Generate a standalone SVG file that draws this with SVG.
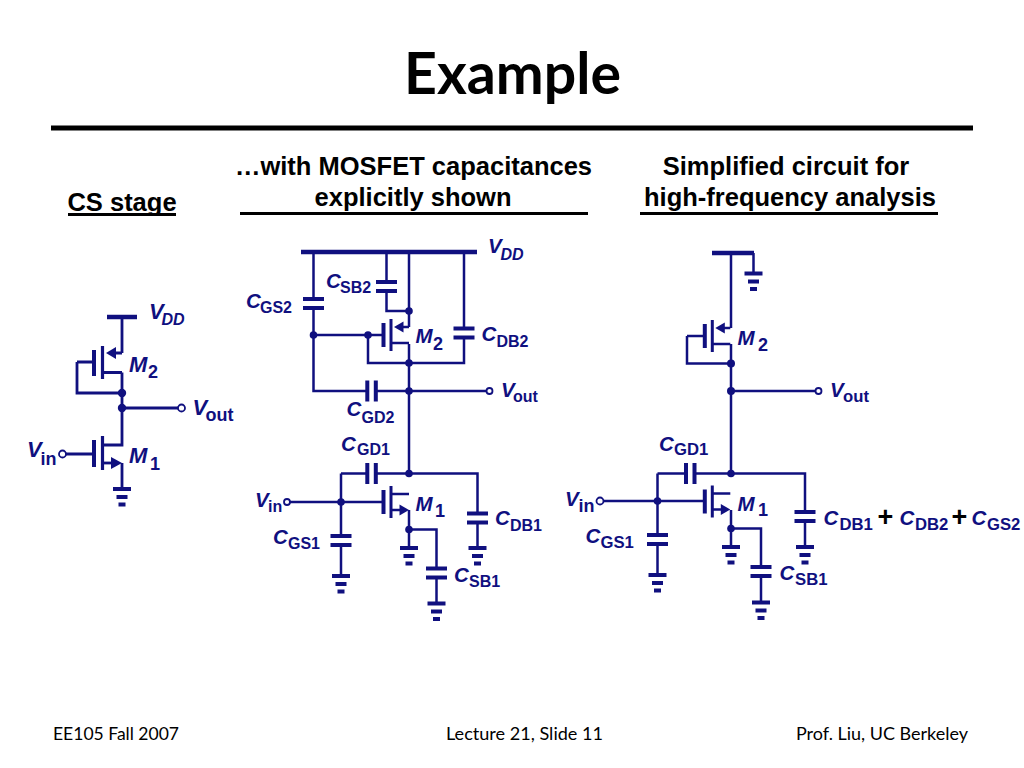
<svg xmlns="http://www.w3.org/2000/svg" width="1024" height="768" viewBox="0 0 1024 768">
<style>
.w{fill:none;stroke:#10107f;stroke-width:2.500;stroke-linejoin:miter}
.p{fill:none;stroke:#10107f;stroke-width:4}
.f{fill:#10107f;stroke:none}
.o{fill:#fff;stroke:#10107f;stroke-width:1.800}
.l{font-family:"Liberation Sans",Arial,sans-serif;font-weight:bold;fill:#10107f}
.b{font-size:20.500px;font-style:italic}
.bl{font-size:22px;font-style:italic}
.s{font-size:16px;font-style:normal}
.r{font-size:16.700px;font-style:normal}
.t{font-size:18px;font-style:normal}
.si{font-size:16px;font-style:italic}
.h{font-family:"Liberation Sans",Arial,sans-serif;font-weight:bold;font-size:25.500px;fill:#000}
.ft{font-family:Lato,"Open Sans",sans-serif;font-size:17.800px;fill:#000}
.k{stroke:#000;stroke-width:3;fill:none}
</style>
<defs>
<g id="gnd"><path class="p" d="M-9 0H9M-5.500 8H5.500M-3.500 15.500H3.500"/></g>
<g id="capH"><path class="p" d="M-10.500 0H10.500M-10.500 9H10.500"/></g>
<g id="capV"><path class="p" d="M0 -10.500V10.500M8.500 -10.500V10.500"/></g>
<g id="nmos"><path class="p" d="M-7.500 -12V12"/><path class="p" d="M0 -16V16" style="stroke-width:3"/><path class="w" d="M0 -8H18M0 8H10"/><polygon class="f" points="18,8 8.500,2.500 8.500,13.500"/></g>
<g id="pmos"><path class="p" d="M-7.500 -12V12"/><path class="p" d="M0 -16V16" style="stroke-width:3"/><path class="w" d="M10 -8H18M0 8H18"/><polygon class="f" points="3,-8 12.500,-13.500 12.500,-2.500"/></g>
</defs>
<rect width="1024" height="768" fill="#fff"/>

<g id="header">
<text x="512.500" y="94" text-anchor="middle" font-family="Lato,'Open Sans',sans-serif" font-weight="bold" font-size="57" fill="#000" textLength="217" lengthAdjust="spacingAndGlyphs">Example</text>
<rect x="51" y="125.500" width="922" height="5" fill="#000"/>
<text class="h" x="122" y="211" text-anchor="middle">CS stage</text>
<path class="k" d="M68 214.500H176"/>
<text class="h" x="413.500" y="175" text-anchor="middle">…with MOSFET capacitances</text>
<text class="h" x="413" y="206" text-anchor="middle">explicitly shown</text>
<path class="k" d="M240 213.500H588"/>
<text class="h" x="786" y="175" text-anchor="middle">Simplified circuit for</text>
<text class="h" x="790" y="206" text-anchor="middle">high-frequency analysis</text>
<path class="k" d="M640 213.500H938"/>
</g>

<g id="connectors">
<path class="w" d="M122 317V353M122 372.500V445H103M122 408H178M122 463V489M77 362H94M77 362V393H122M66 454H94" style="stroke-width:2.800"/>
<path class="p" d="M107 317H137" style="stroke-width:4.500"/>
<path class="w" d="M313.500 252V299M313.500 308V391H367M376 391H486M409 252V327M409 344V473.500M386.500 252V282M386.500 291V311H409M464 252V328M464 337V363H368V335M313.500 335H383M409 473.500H477.500V513.500M477.500 522.500V548M341 473.500H367M376 473.500H409M341 473.500V536M341 545V576M290 502H383M409 510V548M409 529.500H436.500V568.500M436.500 577.500V603.500"/>
<path class="p" d="M301 252H477" style="stroke-width:4.500"/>
<path class="w" d="M731 253V328M731 344V473.500M687 336H704M687 336V363.500H731M753.500 253V273.500M731 391H815M657.500 473.500H686M695 473.500H805V512M805 521V547M657.500 473.500V535M657.500 544V575M604 501H705M731 510V547M731 528.500H761V567M761 575.500V602.500"/>
<path class="p" d="M712 253H754" style="stroke-width:4.500"/>
</g>

<g id="left-circuit">
<g id="left-m2"><path class="p" d="M94 350V376"/><path class="p" d="M102.500 346V379" style="stroke-width:3.200"/><path class="w" d="M114 353H122M103 372.500H122" style="stroke-width:2.800"/><polygon class="f" points="106,353 116,347 116,359"/></g>
<g id="left-m1"><path class="p" d="M94 440V467"/><path class="p" d="M102.500 436V470" style="stroke-width:3.200"/><path class="w" d="M103 463H112" style="stroke-width:2.800"/><polygon class="f" points="122,463 111,457 111,469"/></g>
<use href="#gnd" x="122" y="489"/>
<circle class="f" cx="122" cy="393" r="4.200"/><circle class="f" cx="122" cy="408" r="4.200"/>
<circle class="o" cx="181.500" cy="408" r="3.500"/><circle class="o" cx="62.500" cy="454" r="3.500"/>
<text class="l bl" x="149" y="319">V<tspan class="si" x="161.500" y="325">DD</tspan></text>
<text class="l bl" x="129" y="372">M<tspan class="t" x="148" y="378">2</tspan></text>
<text class="l bl" x="192.500" y="415">V<tspan class="t" x="205.500" y="421">out</tspan></text>
<text class="l bl" x="27" y="457">V<tspan class="t" x="40.500" y="465">in</tspan></text>
<text class="l bl" x="129" y="463">M<tspan class="t" x="150" y="470">1</tspan></text>
</g>

<g id="middle-circuit">
<use href="#pmos" x="391" y="335"/>
<use href="#nmos" x="391" y="502"/>
<use href="#capH" x="313.500" y="299"/><use href="#capH" x="386.500" y="282"/><use href="#capH" x="464" y="328.500"/>
<use href="#capV" x="367.300" y="391"/><use href="#capV" x="367.300" y="473.500"/>
<use href="#capH" x="477.500" y="513.500"/><use href="#capH" x="341" y="536"/><use href="#capH" x="436.500" y="568.500"/>
<use href="#gnd" x="477.500" y="548"/><use href="#gnd" x="341" y="576"/><use href="#gnd" x="409" y="548"/><use href="#gnd" x="436.500" y="603.500"/>
<circle class="f" cx="313.500" cy="335" r="3.800"/><circle class="f" cx="368" cy="335" r="3.800"/><circle class="f" cx="409" cy="311" r="3.800"/><circle class="f" cx="409" cy="363" r="3.800"/><circle class="f" cx="409" cy="391" r="3.800"/><circle class="f" cx="409" cy="473.500" r="3.800"/><circle class="f" cx="341" cy="502" r="3.800"/><circle class="f" cx="409" cy="529.500" r="3.800"/>
<circle class="o" cx="489.500" cy="391" r="3"/><circle class="o" cx="287" cy="502" r="3"/>
<text class="l b" x="488" y="253">V<tspan class="si" x="500.500" y="260">DD</tspan></text>
<text class="l b" x="326" y="288">C<tspan class="s" x="340" y="293">SB2</tspan></text>
<text class="l b" x="246" y="308">C<tspan class="s" x="260" y="313">GS2</tspan></text>
<text class="l b" x="415.500" y="343">M<tspan class="t" x="433" y="350">2</tspan></text>
<text class="l b" x="481.500" y="341">C<tspan class="s" x="496.500" y="347">DB2</tspan></text>
<text class="l b" x="501" y="397">V<tspan class="s" x="513" y="402">out</tspan></text>
<text class="l b" x="346.500" y="416">C<tspan class="s" x="361.500" y="423">GD2</tspan></text>
<text class="l b" x="341" y="451">C<tspan class="s" x="357" y="455">GD1</tspan></text>
<text class="l b" x="255" y="507">V<tspan class="s" x="268" y="512">in</tspan></text>
<text class="l b" x="415.500" y="511">M<tspan class="t" x="435" y="517">1</tspan></text>
<text class="l b" x="273" y="544">C<tspan class="s" x="288" y="549">GS1</tspan></text>
<text class="l b" x="495" y="525">C<tspan class="s" x="510" y="531">DB1</tspan></text>
<text class="l b" x="454" y="582">C<tspan class="s" x="469" y="587">SB1</tspan></text>
</g>

<g id="right-circuit">
<use href="#pmos" x="712.300" y="336"/>
<use href="#nmos" x="712.300" y="501.500"/>
<use href="#gnd" x="753.500" y="273.500"/>
<use href="#capV" x="686" y="473.500"/>
<use href="#capH" x="657.500" y="535"/><use href="#capH" x="761" y="567"/><use href="#capH" x="805" y="512"/>
<use href="#gnd" x="657.500" y="575"/><use href="#gnd" x="731" y="547"/><use href="#gnd" x="761" y="602.500"/><use href="#gnd" x="805" y="547"/>
<circle class="f" cx="731" cy="363.500" r="4"/><circle class="f" cx="731" cy="391" r="4"/><circle class="f" cx="731" cy="473.500" r="3.800"/><circle class="f" cx="657.500" cy="501" r="3.800"/><circle class="f" cx="731" cy="528.500" r="3.800"/>
<circle class="o" cx="818.500" cy="391" r="3"/><circle class="o" cx="600" cy="501" r="3.500"/>
<text class="l b" x="737.500" y="345">M<tspan class="t" x="758" y="351">2</tspan></text>
<text class="l b" x="830" y="397">V<tspan class="r" x="843" y="402">out</tspan></text>
<text class="l b" x="659" y="451">C<tspan class="r" x="674" y="455">GD1</tspan></text>
<text class="l b" x="565" y="506">V<tspan class="t" x="578.500" y="512">in</tspan></text>
<text class="l b" x="737.500" y="511">M<tspan class="t" x="758" y="516">1</tspan></text>
<text class="l b" x="585.500" y="543">C<tspan class="r" x="600.500" y="548">GS1</tspan></text>
<text class="l b" x="823.500" y="525">C<tspan class="r" x="839.500" y="530">DB1</tspan></text>
<text class="l b" x="899.500" y="525">C<tspan class="r" x="915" y="530">DB2</tspan></text>
<text class="l b" x="971.500" y="525">C<tspan class="r" x="987" y="530">GS2</tspan></text>
<text class="l b" x="779.500" y="580">C<tspan class="r" x="795" y="585">SB1</tspan></text>
<text x="885.500" y="526" text-anchor="middle" font-family="Liberation Sans,sans-serif" font-weight="bold" font-size="27" fill="#000">+</text>
<text x="959.500" y="526" text-anchor="middle" font-family="Liberation Sans,sans-serif" font-weight="bold" font-size="27" fill="#000">+</text>
</g>

<g id="footer">
<text class="ft" x="53" y="740" textLength="126" lengthAdjust="spacingAndGlyphs">EE105 Fall 2007</text>
<text class="ft" x="446" y="740" textLength="157" lengthAdjust="spacingAndGlyphs">Lecture 21, Slide 11</text>
<text class="ft" x="796" y="740" textLength="172" lengthAdjust="spacingAndGlyphs">Prof. Liu, UC Berkeley</text>
</g>
</svg>
